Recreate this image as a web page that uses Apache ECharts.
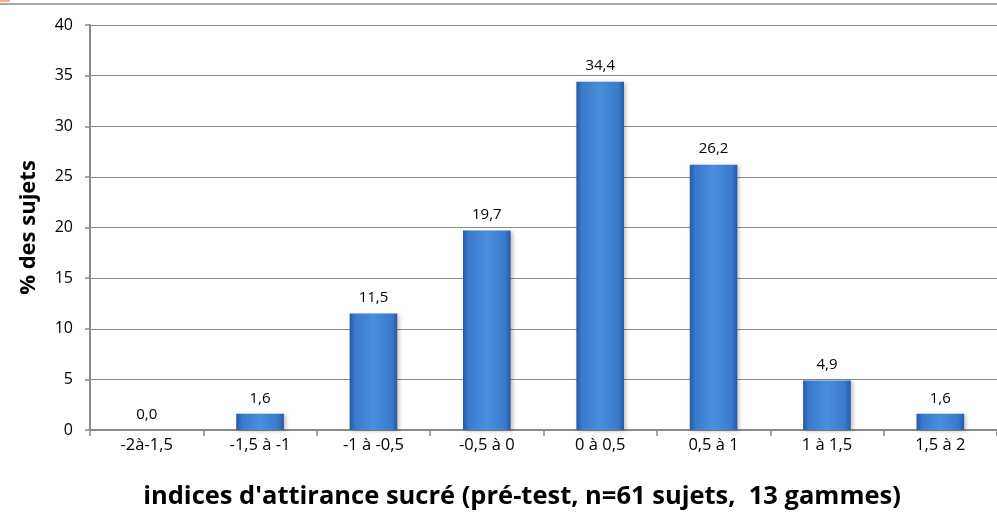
<!DOCTYPE html>
<html><head><meta charset="utf-8">
<script src="https://cdn.jsdelivr.net/npm/echarts@6/dist/echarts.min.js"></script>
<style>html,body{margin:0;padding:0;background:#fff}#c{width:997px;height:527px}</style>
</head><body><div id="c"></div>
<script>
var categories = ['-2à-1,5', '-1,5 à -1', '-1 à -0,5', '-0,5 à 0', '0 à 0,5', '0,5 à 1', '1 à 1,5', '1,5 à 2'];
var values = [0.0, 1.6, 11.5, 19.7, 34.4, 26.2, 4.9, 1.6];
var yTicks = [0, 5, 10, 15, 20, 25, 30, 35, 40];
var xTitle = "indices d'attirance sucré (pré-test, n=61 sujets,  13 gammes)";
var yTitle = '% des sujets';

var FONT = '"Open Sans", sans-serif';
var chart = echarts.init(document.getElementById('c'));
chart.setOption({
  animation: false,
  grid: { left: 90, right: -1, top: 25, bottom: 97 },
  xAxis: {
    type: 'category', data: categories,
    axisLine: { lineStyle: { color: '#8a8a8a', width: 2 } },
    axisTick: { show: true, length: 6, lineStyle: { color: '#8a8a8a', width: 1.5 } },
    axisLabel: { color: '#000', fontSize: 16.5, fontFamily: FONT, margin: 7 }
  },
  yAxis: {
    type: 'value', min: yTicks[0], max: yTicks[yTicks.length - 1], interval: 5,
    name: yTitle, nameLocation: 'middle', nameGap: 50, nameRotate: 90,
    nameTextStyle: { fontSize: 22, fontWeight: 'bold', color: '#000', fontFamily: FONT },
    axisLine: { show: true, lineStyle: { color: '#8a8a8a', width: 2 } },
    axisTick: { show: true, length: 5, lineStyle: { color: '#8a8a8a', width: 1.5 } },
    axisLabel: { color: '#000', fontSize: 16, fontFamily: FONT, margin: 17 },
    splitLine: { lineStyle: { color: '#8a8a8a', width: 1.2 } }
  },
  series: [{
    type: 'bar', data: values, barWidth: '42%',
    itemStyle: {
      color: new echarts.graphic.LinearGradient(0, 0, 1, 0, [
        { offset: 0, color: '#28599e' },
        { offset: 0.12, color: '#3a7acb' },
        { offset: 0.5, color: '#4a8ede' },
        { offset: 0.88, color: '#3a7acb' },
        { offset: 1, color: '#28599e' }
      ]),
      shadowColor: 'rgba(0,0,0,0.25)', shadowBlur: 4, shadowOffsetX: 2, shadowOffsetY: 1
    },
    label: {
      show: true, position: 'top', distance: 8, color: '#000', fontSize: 15, fontFamily: FONT,
      formatter: function (p) { return p.value.toFixed(1).replace('.', ','); }
    }
  }],
  graphic: [
    { type: 'line', shape: { x1: 0, y1: 4, x2: 997, y2: 4 }, style: { stroke: '#8a8a8a', lineWidth: 1.5 } },
    { type: 'line', shape: { x1: 0, y1: 1, x2: 10, y2: 1 }, style: { stroke: '#f0b090', lineWidth: 2 } },
    { type: 'text', x: 522, y: 497, style: { text: xTitle, textAlign: 'center', textVerticalAlign: 'middle', fontSize: 25.5, fontWeight: 'bold', fill: '#000', fontFamily: FONT } }
  ]
});
</script></body></html>
